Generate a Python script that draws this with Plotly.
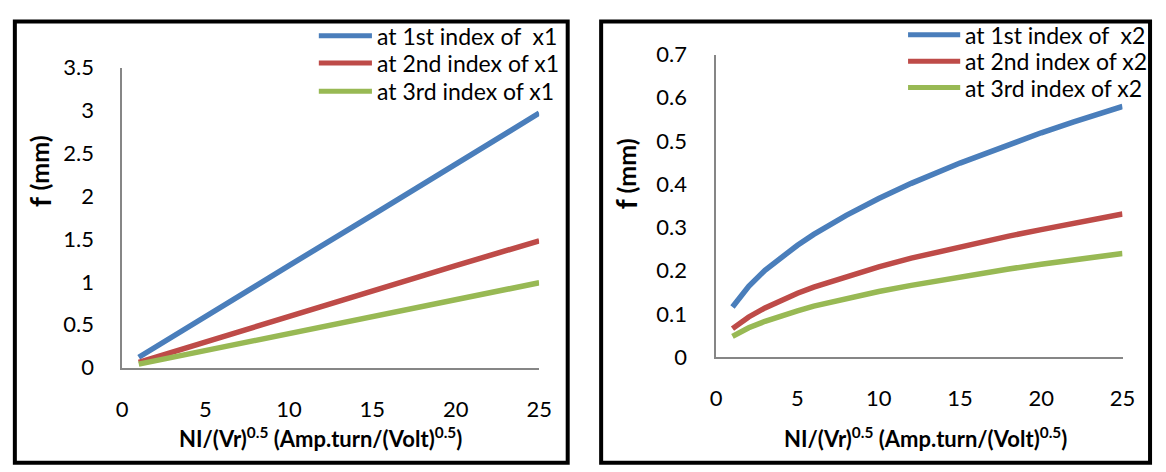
import plotly.graph_objects as go

W, H = 1166, 472

# ---- data -------------------------------------------------------------
x_left = [1, 5, 10, 15, 20, 25]
f_x1_first = [0.12, 0.60, 1.19, 1.78, 2.38, 2.97]
f_x1_second = [0.06, 0.30, 0.59, 0.89, 1.19, 1.48]
f_x1_third = [0.04, 0.20, 0.40, 0.59, 0.79, 0.99]

x_right = [1, 2, 3, 4, 5, 6, 8, 10, 12, 15, 18, 20, 22, 25]
f_x2_first = [0.116, 0.164, 0.201, 0.232, 0.259, 0.284, 0.328, 0.367,
              0.402, 0.449, 0.492, 0.519, 0.544, 0.580]
f_x2_second = [0.066, 0.093, 0.114, 0.132, 0.148, 0.162, 0.187, 0.209,
               0.229, 0.256, 0.280, 0.295, 0.310, 0.331]
f_x2_third = [0.048, 0.068, 0.083, 0.096, 0.107, 0.118, 0.136, 0.152,
              0.166, 0.186, 0.204, 0.215, 0.225, 0.240]

names_left = ["at 1st index of \u00a0x1", "at 2nd index of x1", "at 3rd index of x1"]
names_right = ["at 1st index of \u00a0x2", "at 2nd index of x2", "at 3rd index of x2"]
colors = ["#4A7EBB", "#BE4B48", "#98B954"]

FONT = "Lato"
x_title = "<b>NI/(Vr)<sup>0.5</sup> (Amp.turn/(Volt)<sup>0.5</sup>)</b>"
y_title_symbol = "<b>f</b>"
y_title_unit = "<b>(mm)</b>"


def px(x):
    return x / W


def py(y):
    return 1 - y / H


fig = go.Figure()

for ys, name, c in zip([f_x1_first, f_x1_second, f_x1_third], names_left, colors):
    fig.add_trace(go.Scatter(x=x_left, y=ys, mode="lines", name=name,
                             line=dict(color=c, width=5.5), xaxis="x", yaxis="y",
                             showlegend=False))
for ys, name, c in zip([f_x2_first, f_x2_second, f_x2_third], names_right, colors):
    fig.add_trace(go.Scatter(x=x_right, y=ys, mode="lines", name=name,
                             line=dict(color=c, width=5.5), xaxis="x2", yaxis="y2",
                             showlegend=False))

axis_common = dict(showgrid=False, zeroline=False, showline=True,
                   linecolor="#868686", linewidth=1.5, ticks="",
                   tickfont=dict(family=FONT, size=22, color="#000000"),
                   fixedrange=True)

fig.update_layout(
    width=W, height=H,
    margin=dict(l=0, r=0, t=0, b=0),
    paper_bgcolor="white", plot_bgcolor="white",
    xaxis=dict(domain=[px(118), px(542)], range=[0, 25], dtick=5,
               anchor="y", ticklabelstandoff=21, **axis_common),
    yaxis=dict(domain=[py(375), py(57)], range=[0, 3.5], dtick=0.5,
               anchor="x", ticklabelstandoff=22, **axis_common),
    xaxis2=dict(domain=[px(722), px(1135)], range=[0, 25], dtick=5,
                anchor="y2", ticklabelstandoff=21, **axis_common),
    yaxis2=dict(domain=[py(364), py(43)], range=[0, 0.7], dtick=0.1,
                anchor="x2", ticklabelstandoff=23, **axis_common),
    showlegend=False,
)

shapes = []
annotations = []

# panel frames
for x0, x1 in [(9, 571), (605, 1163)]:
    shapes.append(dict(type="rect", xref="paper", yref="paper",
                       x0=px(x0), x1=px(x1), y0=py(476), y1=py(8),
                       line=dict(color="black", width=4), fillcolor="rgba(0,0,0,0)"))

# legends
for (lx0, lx1, rows, names) in [(318, 372, [23, 52, 82], names_left),
                                (917, 970, [22, 50, 78], names_right)]:
    for yrow, name, c in zip(rows, names, colors):
        shapes.append(dict(type="line", xref="paper", yref="paper",
                           x0=px(lx0), x1=px(lx1), y0=py(yrow), y1=py(yrow),
                           line=dict(color=c, width=5)))
        annotations.append(dict(xref="paper", yref="paper", x=px(lx1 + 3), y=py(yrow),
                                xanchor="left", yanchor="middle", showarrow=False,
                                text=name, font=dict(family=FONT, size=23, color="black")))

# axis titles
for cx in [320, 935]:
    annotations.append(dict(xref="paper", yref="paper", x=px(cx), y=py(449),
                            xanchor="center", yanchor="middle", showarrow=False,
                            text=x_title, font=dict(family=FONT, size=22, color="black")))
# y titles: a larger bold "f" followed by the unit, both rotated
for cx, f_cy, unit_cy in [(33, 199, 158), (630, 202, 161)]:
    annotations.append(dict(xref="paper", yref="paper", x=px(cx + 1), y=py(f_cy),
                            xanchor="center", yanchor="middle", showarrow=False,
                            textangle=-90, text=y_title_symbol,
                            font=dict(family=FONT, size=28, color="black")))
    annotations.append(dict(xref="paper", yref="paper", x=px(cx), y=py(unit_cy),
                            xanchor="center", yanchor="middle", showarrow=False,
                            textangle=-90, text=y_title_unit,
                            font=dict(family=FONT, size=25, color="black")))

fig.update_layout(shapes=shapes, annotations=annotations)
fig.write_html("out.html")
